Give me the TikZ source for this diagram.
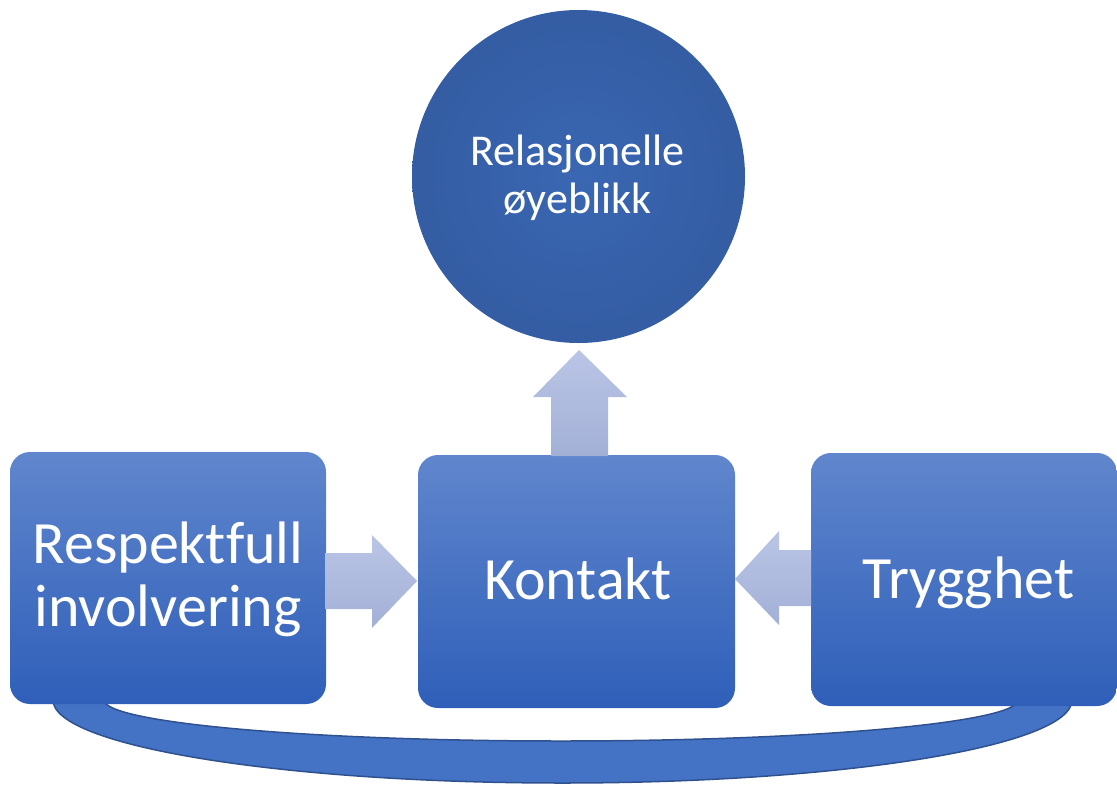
\documentclass[tikz,border=0pt]{standalone}
\usepackage{fontspec}
\setmainfont{Carlito}[Ligatures={NoCommon}]
\usetikzlibrary{calc}
\definecolor{boxtop}{RGB}{96,134,205}
\definecolor{boxbot}{RGB}{47,95,185}
\definecolor{circin}{RGB}{58,103,179}
\definecolor{circout}{RGB}{45,82,146}
\definecolor{arrtop}{RGB}{186,197,230}
\definecolor{arrbot}{RGB}{163,176,214}
\definecolor{bandfill}{RGB}{68,114,196}
\definecolor{bandline}{RGB}{47,82,143}
\pgfdeclareradialshading{circshade}{\pgfpoint{0bp}{0bp}}{color(0bp)=(circin); color(50bp)=(circout)}
\tikzset{
  boxshape/.style={rectangle, rounded corners=20pt, top color=boxtop, bottom color=boxbot, inner sep=0pt, draw=none},
  btext/.style={text=white, align=center, inner sep=0pt, font=\fontsize{60}{63}\selectfont},
  ctext/.style={text=white, align=center, inner sep=0pt, font=\fontsize{44}{48}\selectfont},
  arrowshade/.style={top color=arrtop, bottom color=arrbot, draw=none},
  band/.style={draw=bandline, fill=bandfill, line width=1.5pt}
}
\begin{document}
\begin{tikzpicture}[x=1pt,y=-1pt]
\useasboundingbox (0,0) rectangle (1117,785);
% bottom band
\draw[band] (53,700) arc[start angle=180, end angle=0, x radius=509.5, y radius=83]
  -- (1018,700) arc[start angle=0, end angle=180, x radius=457, y radius=41] -- cycle;
% boxes
\node[boxshape, minimum width=316, minimum height=252] (L) at (168,578) {};
\node[boxshape, minimum width=317, minimum height=253] (K) at (576.5,581.5) {};
\node[boxshape, minimum width=306, minimum height=253] (T) at (964,579.5) {};
% circle
\node[circle, minimum size=333, shading=circshade, inner sep=0pt, draw=none] (R) at (578.5,176.5) {};
% block arrows
\shade[arrowshade] (325,553) -- (372,553) -- (372,535) -- (417,581) -- (372,628) -- (372,609) -- (325,609) -- cycle;
\shade[arrowshade] (811,550) -- (779,550) -- (779,531) -- (735,579) -- (779,625) -- (779,606) -- (811,606) -- cycle;
\shade[arrowshade] (551,456) -- (551,397) -- (533,397) -- (579,350) -- (627,397) -- (608,397) -- (608,456) -- cycle;
% texts
\node[btext] (tL) at (168,579) {Respektfull\\involvering};
\node[btext] (tK) at (578,578.5) {Kontakt};
\node[btext] (tT) at (968.5,582.5) {Trygghet};
\node[ctext] (tR) at (577.5,178) {Relasjonelle\\øyeblikk};
\end{tikzpicture}
\end{document}
